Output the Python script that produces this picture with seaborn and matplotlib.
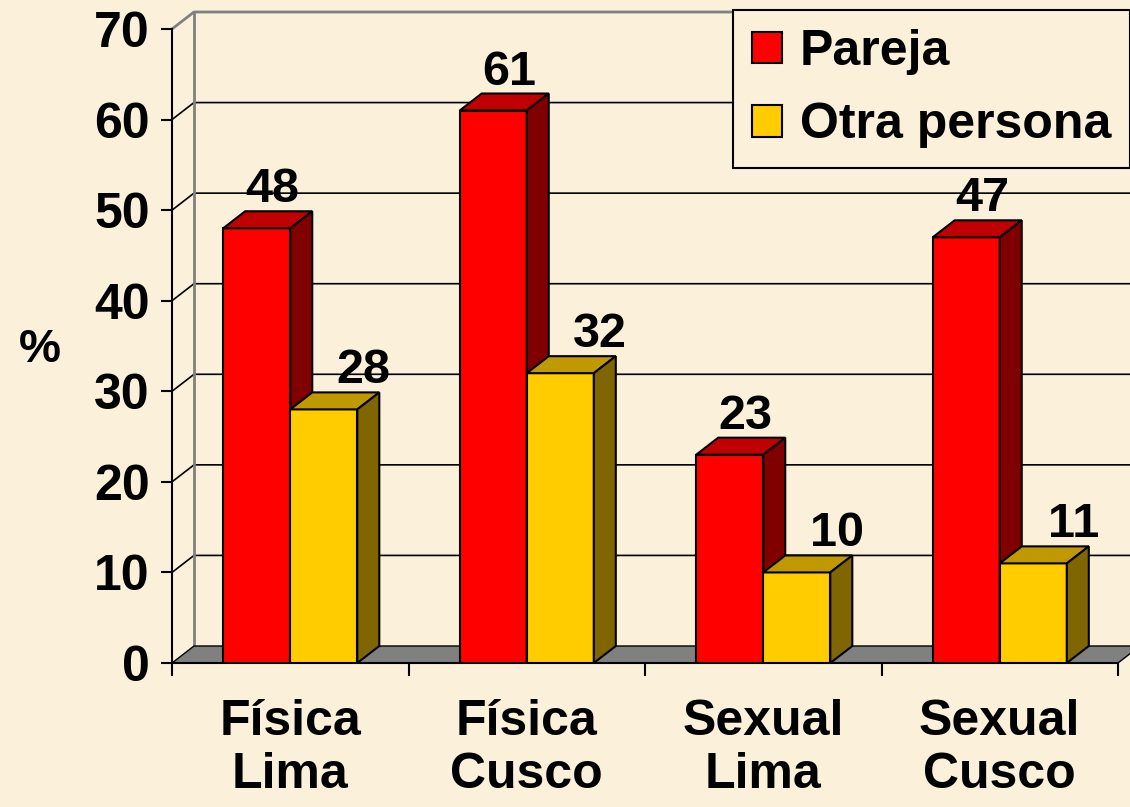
import matplotlib
matplotlib.use("Agg")
import matplotlib.pyplot as plt
from matplotlib.patches import Polygon, Patch
import seaborn as sns
import pandas as pd

# ---- data ----
categories = ["Física\nLima", "Física\nCusco", "Sexual\nLima", "Sexual\nCusco"]
series_names = ["Pareja", "Otra persona"]
pareja = [48, 61, 23, 47]
otra_persona = [28, 32, 10, 11]
yticks = [0, 10, 20, 30, 40, 50, 60, 70]

# ---- styles ----
BG = "#FBF1DA"
FRONT = ["#FF0000", "#FFCC00"]
TOP = ["#C00000", "#C09900"]
SIDE = ["#800000", "#806600"]
FLOOR = "#808080"
WALL_EDGE = "#808080"
LABEL_DX_PX = [16, 40]   # value-label horizontal shift per series (pixels)
LABEL_GAP_PX = 26        # gap between label baseline and bar front top

sns.set_theme(style="white")
plt.rcParams["font.family"] = ["Liberation Sans", "DejaVu Sans"]
plt.rcParams["font.weight"] = "bold"
plt.rcParams["text.color"] = "black"

df = pd.DataFrame({
    "cat": categories * 2,
    "serie": [series_names[0]] * 4 + [series_names[1]] * 4,
    "val": pareja + otra_persona,
})

W, H = 1130, 807
fig = plt.figure(figsize=(W / 100, H / 100), dpi=100)
fig.patch.set_facecolor(BG)
ax_left, ax_right, ax_top, ax_bot = 172, 1118, 29, 663
ax = fig.add_axes([ax_left / W, 1 - ax_bot / H, (ax_right - ax_left) / W, (ax_bot - ax_top) / H])
ax.set_facecolor("none")

sns.barplot(data=df, x="cat", y="val", hue="serie", palette=FRONT, width=0.567, gap=0,
            edgecolor="black", linewidth=1.5, legend=False, ax=ax, saturation=1, zorder=3)

ax.set_xlim(-0.5, 3.5)
ax.set_ylim(0, 70)

# depth offsets in data units
px_per_x = (ax_right - ax_left) / 4.0
px_per_y = (ax_bot - ax_top) / 70.0
DX = 22 / px_per_x
DY = 17 / px_per_y

x0, x1 = -0.5, 3.5
# floor
ax.add_patch(Polygon([(x0, 0), (x1, 0), (x1 + DX, DY), (x0 + DX, DY)], closed=True,
                     facecolor=FLOOR, edgecolor="black", linewidth=1.0, zorder=1.5, clip_on=False))
# grid lines (back wall + left wall diagonals)
for v in yticks[1:-1]:
    ax.plot([x0, x0 + DX, x1 + DX], [v, v + DY, v + DY], color="black", linewidth=1.2,
            zorder=1, clip_on=False)
# wall edges
ax.plot([x0, x0 + DX, x1 + DX], [70, 70 + DY, 70 + DY], color=WALL_EDGE, linewidth=2, zorder=1, clip_on=False)
ax.plot([x0 + DX, x0 + DX], [DY, 70 + DY], color=WALL_EDGE, linewidth=2, zorder=1, clip_on=False)

# 3D faces for the bars
for si, cont in enumerate(ax.containers):
    for patch, v in zip(cont.patches, [pareja, otra_persona][si]):
        bx0 = patch.get_x()
        bx1 = bx0 + patch.get_width()
        h = patch.get_height()
        patch.set_zorder(3 + si)
        ax.add_patch(Polygon([(bx0, h), (bx1, h), (bx1 + DX, h + DY), (bx0 + DX, h + DY)], closed=True,
                             facecolor=TOP[si], edgecolor="black", linewidth=1.5, zorder=3 + si, clip_on=False))
        ax.add_patch(Polygon([(bx1, 0), (bx1, h), (bx1 + DX, h + DY), (bx1 + DX, DY)], closed=True,
                             facecolor=SIDE[si], edgecolor="black", linewidth=1.5, zorder=3 + si, clip_on=False))
        ax.text((bx0 + bx1) / 2 + LABEL_DX_PX[si] / px_per_x, h + LABEL_GAP_PX / px_per_y, f"{v}",
                ha="center", va="baseline", fontsize=35, fontweight="bold", color="black",
                zorder=6, clip_on=False)

# spines / ticks
for s in ["top", "right"]:
    ax.spines[s].set_visible(False)
for s in ["left", "bottom"]:
    ax.spines[s].set_color("black")
    ax.spines[s].set_linewidth(1.5)
    ax.spines[s].set_zorder(2)
ax.set_yticks(yticks)
ax.tick_params(axis="y", length=8, width=1.5, direction="out", left=True, labelsize=36, pad=8, colors="black")
ax.set_xticks([-0.5, 0.5, 1.5, 2.5, 3.5], minor=True)
ax.tick_params(axis="x", which="minor", length=9, width=1.5, direction="out", bottom=True, colors="black")
ax.tick_params(axis="x", which="major", length=0, labelsize=36, pad=26, colors="black")
for lab in ax.get_xticklabels() + ax.get_yticklabels():
    lab.set_fontweight("bold")
ax.set_xlabel("")
ax.set_ylabel("")
ax.grid(False)

fig.text(40 / W, 1 - 350 / H, "%", ha="center", va="center", fontsize=34, fontweight="bold", color="black")

handles = [Patch(facecolor=FRONT[i], edgecolor="black", linewidth=1.5, label=series_names[i]) for i in range(2)]
leg = ax.legend(handles=handles, loc="upper left", bbox_to_anchor=(733 / W, 1 - 10 / H),
                bbox_transform=fig.transFigure, frameon=True, fancybox=False, fontsize=36,
                handlelength=0.6, handleheight=0.6, handletextpad=0.36, labelspacing=0.55,
                borderpad=0.38, borderaxespad=0)
leg.get_frame().set_edgecolor("black")
leg.get_frame().set_linewidth(1.5)
leg.get_frame().set_facecolor(BG)
leg.get_frame().set_alpha(1)
leg.set_zorder(10)
for t in leg.get_texts():
    t.set_fontweight("bold")
    t.set_color("black")

fig.savefig("out.png", dpi=100, facecolor=BG)
